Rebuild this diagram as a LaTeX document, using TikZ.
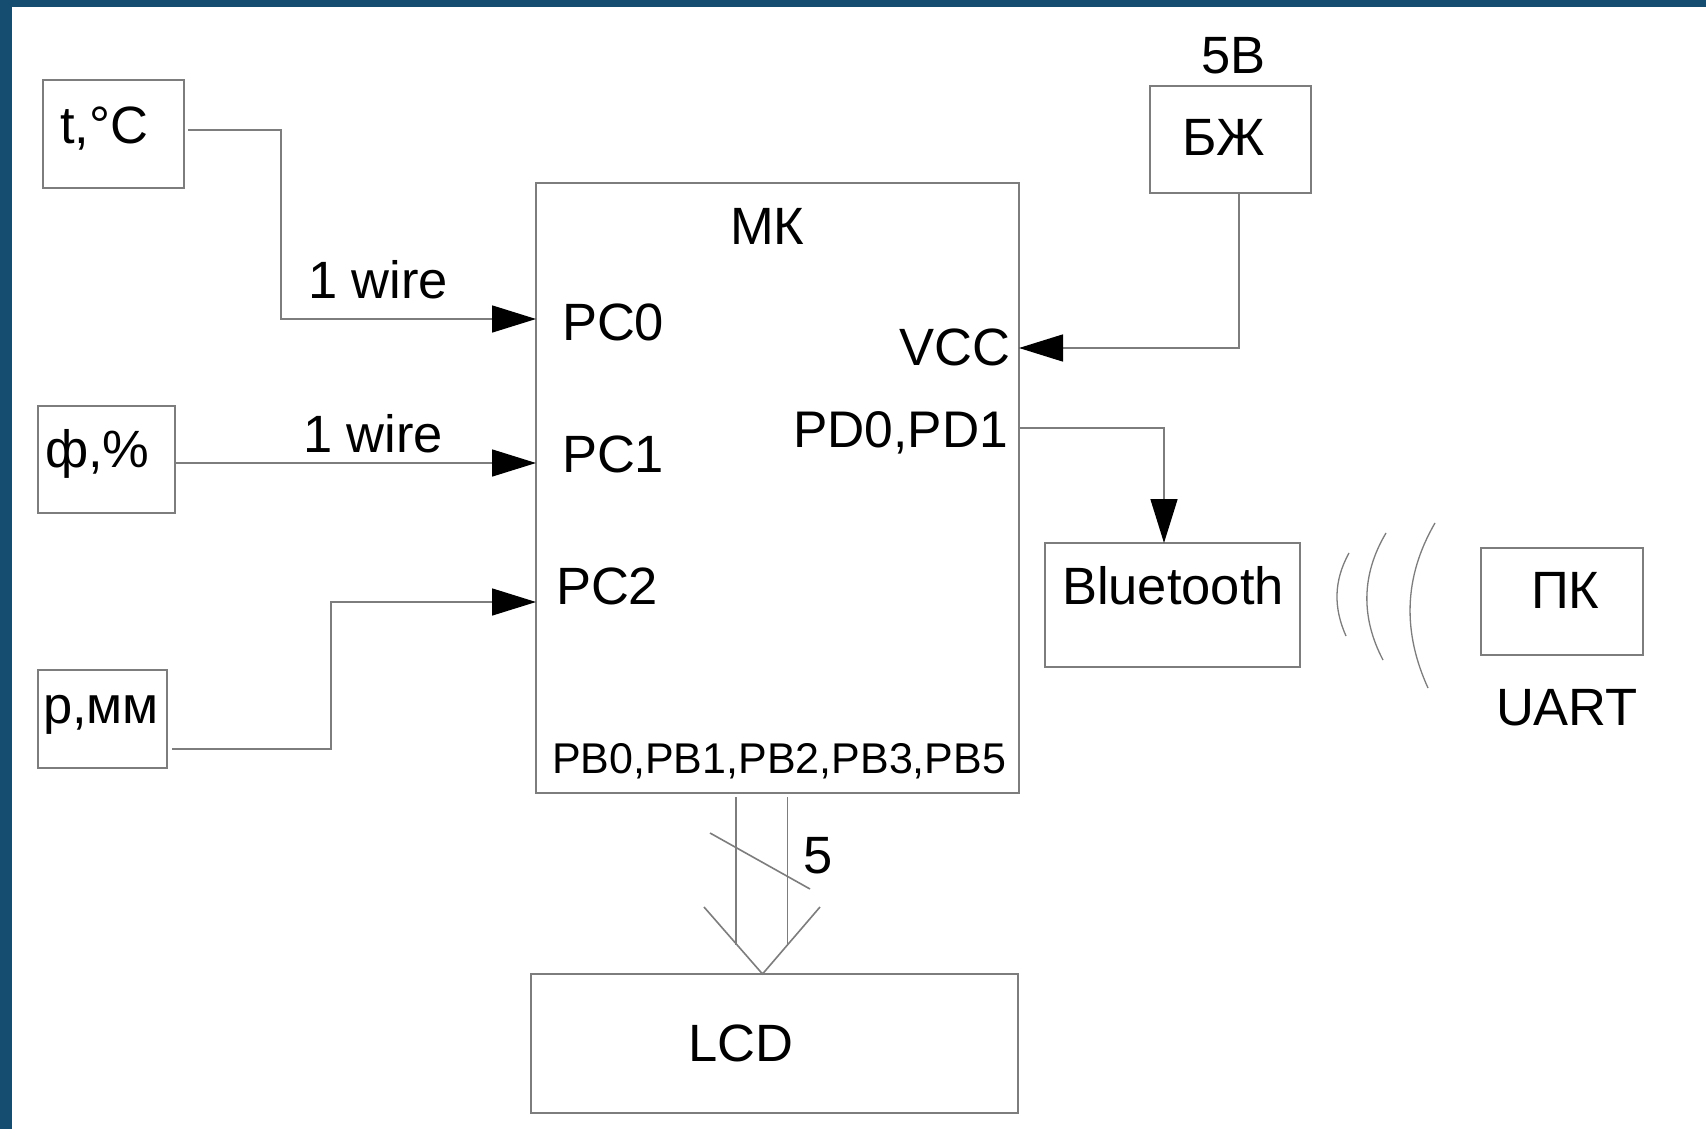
\documentclass[tikz,border=0pt]{standalone}
\usepackage{fontspec}
\setmainfont{Liberation Sans}
\usetikzlibrary{arrows.meta,calc}
\definecolor{frameblue}{RGB}{21,77,112}
\definecolor{linegray}{RGB}{125,125,125}
\begin{document}
\begin{tikzpicture}[x=1pt,y=-1pt,
  box/.style={draw=linegray,line width=2pt,rectangle,inner sep=0pt,outer sep=0pt},
  wire/.style={draw=linegray,line width=1.6pt},
  arr/.style={wire,-{Triangle[length=44pt,width=27pt,color=black]}},
  lbl/.style={inner sep=0pt,outer sep=0pt,anchor=base west,font=\fontsize{52.5}{63}\selectfont},
  lble/.style={lbl,anchor=base east},
  lbls/.style={lbl,font=\fontsize{43}{52}\selectfont},
]
% page and frame
\useasboundingbox (0,0) rectangle (1706,1129);
\fill[white] (0,0) rectangle (1706,1129);
\fill[frameblue] (0,0) rectangle (1706,7.5);
\fill[frameblue] (0,0) rectangle (12,1129);

% blocks
\node[box,minimum width=141pt,minimum height=108pt] (tbox) at (113.5,134) {};
\node[box,minimum width=137pt,minimum height=107pt] (fbox) at (106.5,459.5) {};
\node[box,minimum width=129pt,minimum height=98pt]  (pbox) at (102.5,719) {};
\node[box,minimum width=483pt,minimum height=610pt] (mk)   at (777.5,488) {};
\node[box,minimum width=161pt,minimum height=107pt] (bzh)  at (1230.5,139.5) {};
\node[box,minimum width=255pt,minimum height=124pt] (bt)   at (1172.5,605) {};
\node[box,minimum width=162pt,minimum height=107pt] (pk)   at (1562,601.5) {};
\node[box,minimum width=487pt,minimum height=139pt] (lcd)  at (774.5,1043.5) {};

% texts
\node[lbl] (tt)   at (60,144)   {t,°C};
\node[lbl] (tf)   at (45,467)   {ф,\%};
\node[lbl] (tp)   at (43,723)   {p,мм};
\node[lbl] (w1)   at (308,298)  {1 wire};
\node[lbl] (w2)   at (303,452)  {1 wire};
\node[lbl] (tmk)  at (730,244)  {МК};
\node[lbl] (pc0)  at (562,340)  {PC0};
\node[lbl] (pc1)  at (562,472)  {PC1};
\node[lbl] (pc2)  at (556,604)  {PC2};
\node[lble] (vcc) at (1010,365) {VCC};
\node[lble,font=\fontsize{51.5}{62}\selectfont] (pd) at (1008,447) {PD0,PD1};
\node[lbls] (pb)  at (552,773)  {PB0,PB1,PB2,PB3,PB5};
\node[lbl] (t5v)  at (1201,74)  {5В};
\node[lbl] (tbzh) at (1182,156) {БЖ};
\node[lbl] (tbt)  at (1062,604) {Bluetooth};
\node[lbl] (tpk)  at (1531,608) {ПК};
\node[lbl] (uart) at (1496,725) {UART};
\node[lbl] (tlcd) at (688,1061) {LCD};
\node[lbl] (n5)   at (803,873)  {5};

% pin heights on the controller
\coordinate (yC0) at (0,319);
\coordinate (yC1) at (0,463);
\coordinate (yC2) at (0,602);
\coordinate (yVcc) at (0,348);
\coordinate (yPD) at (0,428);

% sensor and supply connections
\draw[arr] ($(tbox.east)+(4,-4)$) -- (281,130) |- (mk.west |- yC0);
\draw[arr] ($(fbox.east)+(0,3.5)$) -- (mk.west |- yC1);
\draw[arr] ($(pbox.east)+(5,30)$) -- (331,749) |- (mk.west |- yC2);
\draw[arr] ($(bzh.south)+(8.5,0)$) |- (mk.east |- yVcc);
\draw[arr] (mk.east |- yPD) -| ($(bt.north)+(-8.5,0)$);

% 5-line bus to the display
\coordinate (apex) at ($(lcd.north)+(-12,0)$);
\draw[wire] ($(mk.south)+(-41.5,4)$) -- ++(0,148);
\draw[wire] ($(mk.south)+(10,4)$) -- ++(0,148);
\draw[wire] ($(mk.south)+(-67.5,40)$) -- ++(100,56);
\draw[wire] ($(apex)+(-58.5,-67)$) -- (apex) -- ($(apex)+(57.5,-67)$);

% radio waves
\draw[wire,line width=1.3pt] (1349,553) .. controls (1333.5,581) and (1333.5,608) .. (1346,636);
\draw[wire,line width=1.3pt] (1386,533) .. controls (1361,575) and (1361,618) .. (1383,660);
\draw[wire,line width=1.3pt] (1435,523) .. controls (1403,578) and (1403,633) .. (1428,688);
\end{tikzpicture}
\end{document}
